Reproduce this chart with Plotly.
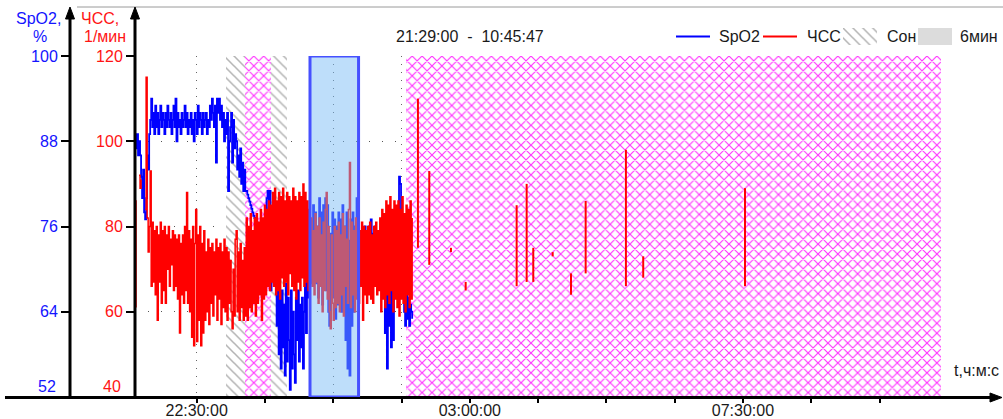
import plotly.graph_objects as go
import pandas as pd

W, H = 1003, 419

# ---- recording window -------------------------------------------------------
rec_start = "2024-01-01 21:29:00"
rec_end = "2024-01-02 10:45:47"

# ---- SpO2 (%) and heart rate (1/min), one sample per minute from 21:29 ------
spo2 = [
    89, 87, 89, 86, 88, 86, 83, 80, 84, 78,
    77, 80, 86, 84, 89, 91, 94, 90, 92, 89,
    93, 90, 92, 89, 91, 93, 90, 92, 91, 89,
    92, 90, 93, 91, 90, 92, 89, 91, 93, 90,
    94, 88, 92, 90, 91, 89, 92, 90, 91, 93,
    90, 92, 89, 91, 90, 92, 89, 91, 88, 92,
    91, 89, 93, 90, 92, 91, 89, 92, 90, 91,
    92, 89, 91, 90, 93, 91, 94, 92, 90, 93,
    85, 94, 92, 94, 91, 93, 90, 92, 88, 91,
    89, 92, 81, 88, 90, 92, 85, 91, 87, 89,
    88, 84, 86, 83, 87, 82, 85, 81, 84, 81,
    81, 80.5, 80, 79.5, 79, 78.5, 78, 77.5, 77.2, 77,
    76.6, 76.2, 75.8, 75.5, 75, 74.7, 74.5, 75, 74, 76,
    80, 81, 78, 81, 67, 74, 72, 76, 71, 73,
    62, 68, 58, 66, 56, 67, 59, 65, 55, 68,
    57, 66, 60, 53, 67, 56, 64, 58, 54, 66,
    60, 67, 57, 65, 59, 66, 56, 64, 68, 61,
    71, 66, 73, 68, 77, 70, 79, 72, 78, 68,
    76, 66, 80, 69, 78, 65, 79, 70, 80, 67,
    79, 64, 62, 75, 68, 78, 66, 77, 63, 76,
    65, 78, 68, 77, 64, 79, 66, 76, 60, 78,
    56, 74, 55, 77, 62, 78, 64, 76, 66, 80,
    68, 74, 72, 75, 71, 74, 73, 76, 72, 75,
    73, 76, 71, 77, 74, 75, 72, 76, 73, 74,
    72, 75, 70, 76, 69, 74, 68, 61, 72, 56,
    70, 62, 74, 59, 75, 60, 76, 72, 74, 70,
    78, 83, 82, 76, 74, 75, 64, 62, 68, 63,
    66, 62, 65, 64, 63,
]

hr = [
    86, 61, None, None, 92, 89, 91, None, None, None,
    84, 115, 82, 74, 80, 93, 66, 81, 67, 79,
    64, 80, 58, 78, 67, 81, 62, 79, 65, 80,
    62, 78, 70, 80, 66, 77, 71, 79, 65, 78,
    66, 77, 63, 78, 55, 76, 64, 78, 62, 80,
    65, 88, 62, 79, 60, 77, 54, 80, 52, 76,
    84, 53, 78, 58, 80, 52, 76, 55, 79, 58,
    74, 60, 77, 57, 75, 62, 76, 59, 74, 64,
    77, 58, 75, 63, 76, 57, 74, 61, 77, 60,
    75, 58, 74, 62, 72, 60, 56, 70, 59, 77,
    79, 60, 74, 58, 76, 61, 72, 58, 75, 59,
    82, 58, 80, 61, 83, 60, 79, 62, 82, 59,
    83, 62, 81, 64, 84, 58, 82, 63, 85, 64,
    84, 66, 86, 65, 85, 67, 88, 66, 89, 64,
    86, 65, 88, 63, 87, 68, 89, 66, 86, 67,
    88, 64, 87, 69, 86, 66, 89, 65, 87, 63,
    86, 67, 88, 65, 87, 68, 90, 66, 88, 67,
    86, 65, 84, 68, 82, 66, 79, 64, 83, 67,
    80, 62, 82, 66, 78, 60, 81, 65, 84, 88,
    63, 80, 60, 56, 78, 62, 58, 80, 61, 79,
    62, 81, 60, 78, 64, 83, 59, 80, 66, 77,
    62, 84, 95, 61, 81, 64, 79, 60, 82, 63,
    80, 62, 79, 66, 81, 58, 80, 64, 79, 62,
    80, 64, 81, 63, 78, 62, 80, 66, 81, 64,
    79, 65, 82, 60, 84, 63, 83, 61, 86, 64,
    85, 62, 87, 65, 84, 60, 86, 63, 85, 61,
    86, 59, 84, 63, 87, 62, 83, 60, 85, 64,
    84, 61, 86, 63, 82,
]

# isolated heart-rate fragments later in the night (time, upper, lower)
frag_times = ["02:08:42", "02:19:54", "02:41:20", "02:55:53", "03:46:17",
              "03:56:11", "04:02:43", "04:21:53", "04:40:00", "04:54:30",
              "05:34:18", "05:51:24", "07:32:00"]
frag_hi = [110, 93, 75, 67, 85, 90, 75, 74, 69, 86, 98, 73, 89]
frag_lo = [75, 71, 74, 65, 66, 67, 67, 73, 64, 69, 66, 68, 66]

# sleep intervals ("Сон") and marked intervals (cross-hatched)
sleep_start = ["22:59:00"]
sleep_end = ["23:59:00"]
mark_start = ["23:18:00", "01:57:00"]
mark_end = ["23:43:00", "10:45:47"]

# highlighted selection
sel_start, sel_end = "00:22:00", "01:10:00"

# axis ticks
x_major = ["22:30:00", "03:00:00", "07:30:00"]
spo2_ticks = [64, 76, 88, 100]
hr_ticks = [60, 80, 100, 120]

BLUE = "#0000ff"
RED = "#ff0000"
TXT_BLUE = "#1414ff"
TXT_RED = "#ff1414"
TXT = "#1a1a1a"
FONT = "Liberation Sans, Arial, sans-serif"

t0 = pd.Timestamp(rec_start)
t_end = pd.Timestamp(rec_end)


def at(hms):
    """Clock time -> timestamp inside the recording night."""
    t = pd.Timestamp(t0.strftime("%Y-%m-%d ") + hms)
    if t < t0:
        t += pd.Timedelta(days=1)
    return t


def px(x):
    return x / W


def py(y):
    return 1 - y / H


dense_t = pd.date_range(t0, periods=len(hr), freq="1min")

fx, fy = [], []
for t, a, b in zip(frag_times, frag_hi, frag_lo):
    fx += [at(t), at(t), None]
    fy += [a, b, None]

fig = go.Figure()

# hatched sleep band
for s, e in zip(sleep_start, sleep_end):
    a, b = at(s), at(e)
    fig.add_bar(x=[a + (b - a) / 2], y=[48], base=[52],
                width=[(b - a).total_seconds() * 1000],
                marker=dict(color="white", line_width=0,
                            pattern=dict(shape="\\", fgcolor="#b4b4b4", bgcolor="white",
                                         size=7, solidity=0.22, fillmode="replace")),
                xaxis="x", yaxis="y", showlegend=False, hoverinfo="skip")

# cross-hatched marked intervals
for s, e in zip(mark_start, mark_end):
    a, b = at(s), at(e)
    fig.add_bar(x=[a + (b - a) / 2], y=[48], base=[52],
                width=[(b - a).total_seconds() * 1000],
                marker=dict(color="white", line_width=0,
                            pattern=dict(shape="x", fgcolor="#ff33ff", bgcolor="white",
                                         size=7, solidity=0.3, fillmode="replace")),
                xaxis="x", yaxis="y", showlegend=False, hoverinfo="skip")

fig.add_scatter(x=dense_t, y=spo2, mode="lines", line=dict(color=BLUE, width=1.8, shape="hv"),
                xaxis="x", yaxis="y", showlegend=False, connectgaps=False)
fig.add_scatter(x=dense_t, y=hr, mode="lines", line=dict(color=RED, width=1.5, shape="hv"),
                xaxis="x", yaxis="y2", showlegend=False, connectgaps=False)
fig.add_scatter(x=fx, y=fy, mode="lines", line=dict(color=RED, width=2),
                xaxis="x", yaxis="y2", showlegend=False, connectgaps=False)

# small hatched swatch for the legend
fig.add_bar(x=[0.5], y=[1], base=[0], width=[1], xaxis="x3", yaxis="y3",
            marker=dict(color="white", line_width=0,
                        pattern=dict(shape="\\", fgcolor="#b4b4b4", bgcolor="white",
                                     size=7, solidity=0.22, fillmode="replace")),
            showlegend=False, hoverinfo="skip")

grid_ticks = pd.date_range(at("22:30:00"), t_end, freq="67min30s")

fig.update_layout(
    width=W, height=H,
    margin=dict(l=0, r=0, t=0, b=0),
    paper_bgcolor="white", plot_bgcolor="white",
    barmode="overlay", bargap=0,
    font=dict(family=FONT, size=16, color=TXT),
    showlegend=False,
    xaxis=dict(
        domain=[px(135), px(941)], anchor="y", type="date",
        range=[t0, t_end],
        tickmode="array", tickvals=[at(v) for v in x_major], ticktext=x_major,
        ticks="outside", ticklen=5, tickwidth=2, tickcolor="black",
        ticklabelstandoff=-6,
        tickfont=dict(size=16, color=TXT),
        showgrid=True, gridcolor="#666", griddash="1px,7px", gridwidth=1,
        minor=dict(tickmode="array", tickvals=list(grid_ticks), ticks="outside",
                   ticklen=5, tickwidth=2, tickcolor="black",
                   showgrid=True, gridcolor="#666", griddash="1px,7px", gridwidth=1),
        showline=False, zeroline=False, automargin=False,
    ),
    yaxis=dict(
        domain=[py(397), py(56)], range=[52, 100], anchor="free", position=px(70),
        tickmode="array", tickvals=spo2_ticks,
        ticks="outside", ticklen=9, tickwidth=2, tickcolor="black",
        tickfont=dict(size=16, color=TXT_BLUE),
        showgrid=True, gridcolor="#555", griddash="1px,12px", gridwidth=1,
        showline=False, zeroline=False, automargin=False,
    ),
    yaxis2=dict(
        domain=[py(397), py(56)], range=[40, 120], overlaying="y", anchor="free",
        position=px(135), side="left",
        tickmode="array", tickvals=hr_ticks,
        ticks="outside", ticklen=9, tickwidth=2, tickcolor="black",
        tickfont=dict(size=16, color=TXT_RED),
        showgrid=False, showline=False, zeroline=False, automargin=False,
    ),
    xaxis3=dict(domain=[px(843), px(877)], range=[0, 1], anchor="y3", visible=False,
                fixedrange=True),
    yaxis3=dict(domain=[py(45), py(28)], range=[0, 1], anchor="x3", visible=False,
                fixedrange=True),
)

shapes = []
# frame line along the top
shapes.append(dict(type="line", xref="paper", yref="paper", x0=px(77), x1=px(1003),
                   y0=py(7), y1=py(7), line=dict(color="#9a9a9a", width=1)))
# vertical axes with arrows
for ax in (70, 135):
    shapes.append(dict(type="line", xref="paper", yref="paper", x0=px(ax), x1=px(ax),
                       y0=py(398), y1=py(16), line=dict(color="black", width=3)))
    shapes.append(dict(type="path", xref="paper", yref="paper",
                       path=f"M {px(ax)} {py(7)} L {px(ax - 4.5)} {py(19)} L {px(ax + 4.5)} {py(19)} Z",
                       fillcolor="black", line=dict(color="black", width=1)))
# time axis with arrow
shapes.append(dict(type="line", xref="paper", yref="paper", x0=px(5), x1=px(992),
                   y0=py(397.5), y1=py(397.5), line=dict(color="black", width=3)))
shapes.append(dict(type="path", xref="paper", yref="paper",
                   path=f"M {px(1002)} {py(397.5)} L {px(990)} {py(393)} L {px(990)} {py(402)} Z",
                   fillcolor="black", line=dict(color="black", width=1)))
# selection box
shapes.append(dict(type="rect", xref="x", yref="y", x0=at(sel_start), x1=at(sel_end),
                   y0=52, y1=100, layer="above",
                   fillcolor="rgba(120,187,244,0.48)", line=dict(color="#4650ff", width=3)))
# legend swatches
shapes.append(dict(type="line", xref="paper", yref="paper", x0=px(676), x1=px(710),
                   y0=py(36.5), y1=py(36.5), line=dict(color=BLUE, width=2)))
shapes.append(dict(type="line", xref="paper", yref="paper", x0=px(763), x1=px(797),
                   y0=py(36.5), y1=py(36.5), line=dict(color=RED, width=2)))
shapes.append(dict(type="rect", xref="paper", yref="paper", x0=px(918), x1=px(952),
                   y0=py(45), y1=py(28), fillcolor="#dcdcdc", line=dict(width=0)))
fig.update_layout(shapes=shapes)

ann = []


def label(x, y, text, color=TXT, anchor="center", size=16):
    ann.append(dict(x=px(x), y=py(y), xref="paper", yref="paper", text=text,
                    showarrow=False, xanchor=anchor, yanchor="middle",
                    font=dict(size=size, color=color, family=FONT)))


label(38, 18, "SpO2,", TXT_BLUE)
label(40, 37, "%", TXT_BLUE)
label(100, 18, "ЧСС,", TXT_RED)
label(105, 37, "1/мин", TXT_RED)
label(58, 386, "52", TXT_BLUE, anchor="right")
label(123, 386, "40", TXT_RED, anchor="right")
label(470, 36, "21:29:00\u00a0\u00a0-\u00a0\u00a010:45:47")
label(717, 37, "SpO2", anchor="left")
label(805, 37, "ЧСС", anchor="left")
label(885, 37, "Сон", anchor="left")
label(958, 37, "6мин", anchor="left")
label(1001, 370, "t,ч:м:с", anchor="right")
fig.update_layout(annotations=ann)

fig.write_html("out.html")
